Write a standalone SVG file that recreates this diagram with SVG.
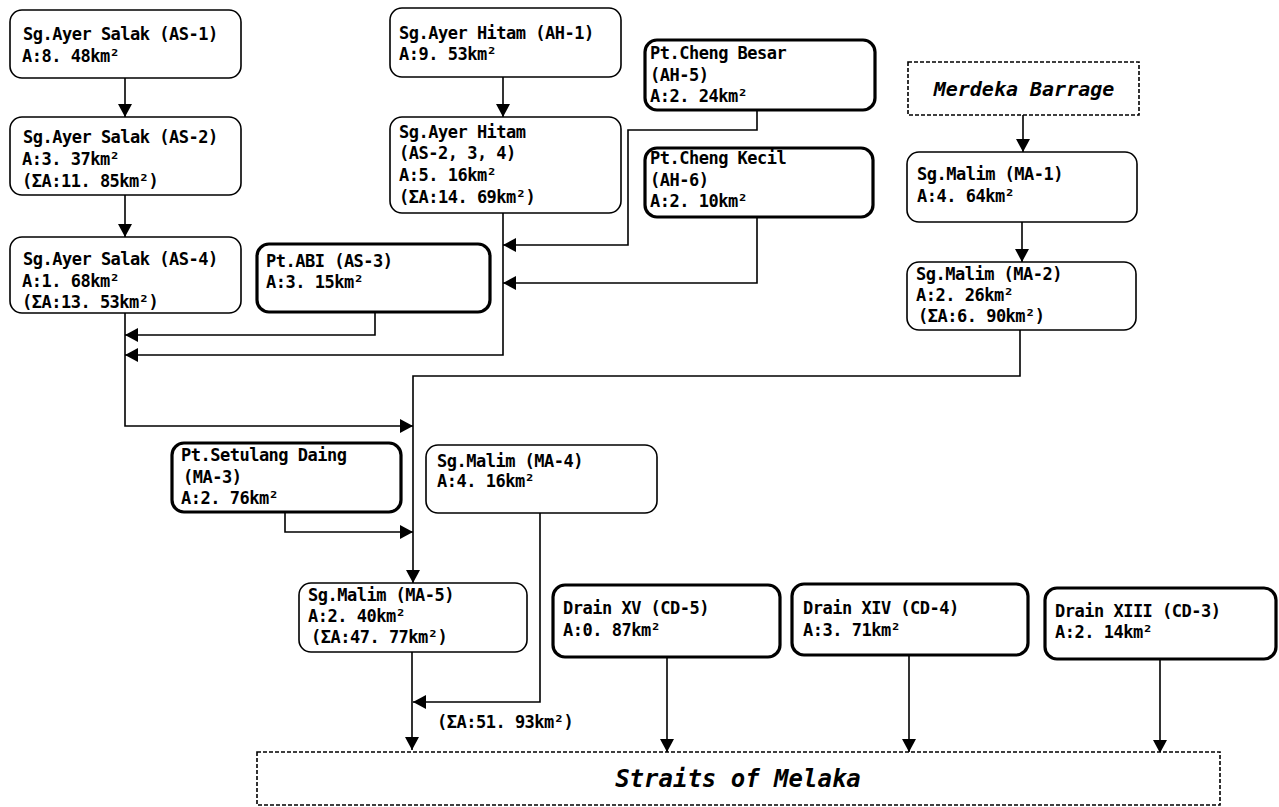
<svg xmlns="http://www.w3.org/2000/svg" width="1279" height="807" viewBox="0 0 1279 807">
<style>
.bx{fill:#fff;stroke:#000;stroke-width:1.6}
.bk{fill:#fff;stroke:#000;stroke-width:3.2}
.ds{fill:#fff;stroke:#000;stroke-width:1.6;stroke-dasharray:4 2}
text{font-family:"DejaVu Sans Mono","Liberation Mono",monospace;font-weight:bold;font-size:17px;letter-spacing:-0.5px;fill:#000}
.it{font-style:italic;text-anchor:middle;letter-spacing:0}
.cn{fill:none;stroke:#000;stroke-width:1.6}
</style>
<defs>
<marker id="ah" markerUnits="userSpaceOnUse" markerWidth="13" markerHeight="14" refX="13" refY="7" orient="auto">
<path d="M0,0 L13,7 L0,14 z" fill="#000"/>
</marker>
</defs>
<rect width="1279" height="807" fill="#fff"/>

<g id="connectors">
<path class="cn" d="M125,78 V117" marker-end="url(#ah)"/>
<path class="cn" d="M125,195 V237" marker-end="url(#ah)"/>
<path class="cn" d="M503,77 V117" marker-end="url(#ah)"/>
<path class="cn" d="M757,110 V130 H628 V245 H503" marker-end="url(#ah)"/>
<path class="cn" d="M757,217 V283 H503" marker-end="url(#ah)"/>
<path class="cn" d="M375,312 V335 H125" marker-end="url(#ah)"/>
<path class="cn" d="M503,213 V355 H125" marker-end="url(#ah)"/>
<path class="cn" d="M125,313 V426 H413" marker-end="url(#ah)"/>
<path class="cn" d="M1023,115 V152" marker-end="url(#ah)"/>
<path class="cn" d="M1022,222 V262" marker-end="url(#ah)"/>
<path class="cn" d="M1020,330 V376 H413 V583" marker-end="url(#ah)"/>
<path class="cn" d="M285,512 V532 H413" marker-end="url(#ah)"/>
<path class="cn" d="M540,513 V702 H413" marker-end="url(#ah)"/>
<path class="cn" d="M412,652 V750" marker-end="url(#ah)"/>
<path class="cn" d="M667,657 V752" marker-end="url(#ah)"/>
<path class="cn" d="M909,655 V752" marker-end="url(#ah)"/>
<path class="cn" d="M1160,659 V753" marker-end="url(#ah)"/>
<text x="437" y="728">(ΣA:51. 93km²)</text>
</g>

<g id="AS-1">
<rect class="bx" x="10" y="10" width="231" height="68" rx="12"/>
<text x="23" y="40">Sg.Ayer Salak (AS-1)</text>
<text x="22" y="62">A:8. 48km²</text>
</g>
<g id="AS-2">
<rect class="bx" x="10" y="117" width="231" height="78" rx="12"/>
<text x="23" y="143">Sg.Ayer Salak (AS-2)</text>
<text x="22" y="165">A:3. 37km²</text>
<text x="22" y="187">(ΣA:11. 85km²)</text>
</g>
<g id="AS-4">
<rect class="bx" x="10" y="237" width="231" height="76" rx="12"/>
<text x="23" y="265">Sg.Ayer Salak (AS-4)</text>
<text x="22" y="287">A:1. 68km²</text>
<text x="22" y="308">(ΣA:13. 53km²)</text>
</g>
<g id="AS-3">
<rect class="bk" x="257" y="244" width="233" height="68" rx="12"/>
<text x="266" y="267">Pt.ABI (AS-3)</text>
<text x="266" y="288">A:3. 15km²</text>
</g>
<g id="AH-1">
<rect class="bx" x="390" y="8" width="231" height="69" rx="12"/>
<text x="399" y="39">Sg.Ayer Hitam (AH-1)</text>
<text x="399" y="60">A:9. 53km²</text>
</g>
<g id="AH-2">
<rect class="bx" x="390" y="117" width="231" height="96" rx="12"/>
<text x="399" y="138">Sg.Ayer Hitam</text>
<text x="399" y="159">(AS-2, 3, 4)</text>
<text x="399" y="181">A:5. 16km²</text>
<text x="399" y="203">(ΣA:14. 69km²)</text>
</g>
<g id="AH-5">
<rect class="bk" x="645" y="40" width="230" height="70" rx="12"/>
<text x="650" y="59">Pt.Cheng Besar</text>
<text x="650" y="81">(AH-5)</text>
<text x="650" y="102">A:2. 24km²</text>
</g>
<g id="AH-6">
<rect class="bk" x="645" y="148" width="228" height="69" rx="12"/>
<text x="650" y="164">Pt.Cheng Kecil</text>
<text x="650" y="186">(AH-6)</text>
<text x="650" y="207">A:2. 10km²</text>
</g>
<g id="Merdeka">
<rect class="ds" x="908" y="62" width="231" height="53"/>
<text class="it" x="1024" y="96" style="font-size:20px">Merdeka Barrage</text>
</g>
<g id="MA-1">
<rect class="bx" x="907" y="152" width="230" height="70" rx="12"/>
<text x="917" y="180">Sg.Malim (MA-1)</text>
<text x="917" y="202">A:4. 64km²</text>
</g>
<g id="MA-2">
<rect class="bx" x="907" y="262" width="229" height="68" rx="12"/>
<text x="916" y="280">Sg.Malim (MA-2)</text>
<text x="916" y="301">A:2. 26km²</text>
<text x="918" y="322">(ΣA:6. 90km²)</text>
</g>
<g id="MA-3">
<rect class="bk" x="172" y="443" width="229" height="69" rx="12"/>
<text x="181" y="461">Pt.Setulang Daing</text>
<text x="183" y="483">(MA-3)</text>
<text x="181" y="504">A:2. 76km²</text>
</g>
<g id="MA-4">
<rect class="bx" x="426" y="445" width="231" height="68" rx="12"/>
<text x="437" y="467">Sg.Malim (MA-4)</text>
<text x="437" y="487">A:4. 16km²</text>
</g>
<g id="MA-5">
<rect class="bx" x="299" y="583" width="228" height="69" rx="12"/>
<text x="308" y="601">Sg.Malim (MA-5)</text>
<text x="308" y="622">A:2. 40km²</text>
<text x="311" y="643">(ΣA:47. 77km²)</text>
</g>
<g id="CD-5">
<rect class="bk" x="553" y="585" width="227" height="72" rx="12"/>
<text x="563" y="614">Drain XV (CD-5)</text>
<text x="563" y="636">A:0. 87km²</text>
</g>
<g id="CD-4">
<rect class="bk" x="792" y="584" width="236" height="71" rx="12"/>
<text x="803" y="614">Drain XIV (CD-4)</text>
<text x="803" y="636">A:3. 71km²</text>
</g>
<g id="CD-3">
<rect class="bk" x="1045" y="588" width="231" height="71" rx="12"/>
<text x="1055" y="617">Drain XIII (CD-3)</text>
<text x="1055" y="638">A:2. 14km²</text>
</g>
<g id="Straits">
<rect class="ds" x="257" y="752" width="963" height="53"/>
<text class="it" x="738" y="787" style="font-size:24px">Straits of Melaka</text>
</g>
</svg>
